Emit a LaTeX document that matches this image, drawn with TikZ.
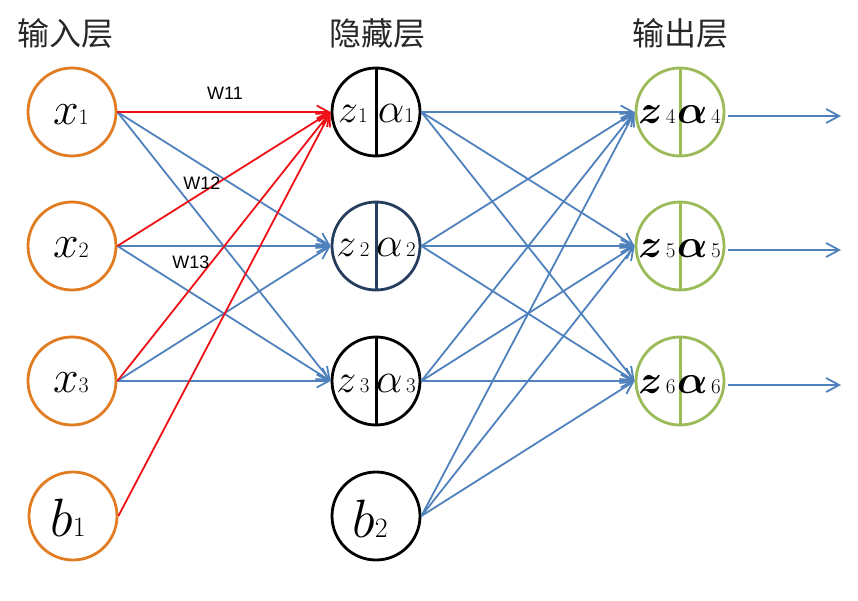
\RequirePackage{fix-cm}
\documentclass[tikz,border=0pt]{standalone}
\usepackage{bm}
\usepackage{fontspec}
\newfontfamily\cjkf{Noto Sans CJK SC}
\newfontfamily\arialf{Liberation Sans}
\usetikzlibrary{arrows.meta}
\definecolor{inorange}{RGB}{226,124,34}
\definecolor{outgreen}{RGB}{155,187,89}
\definecolor{linkblue}{RGB}{79,129,189}
\definecolor{linkred}{RGB}{238,16,22}
\definecolor{darknavy}{RGB}{40,62,95}
\definecolor{headgray}{RGB}{40,40,40}
% #1 letter size, #2 letter (math), #3 digit size, #4 digit
\newcommand{\nnlab}[4]{{\fontsize{#1pt}{#1pt}\selectfont$#2$}{\fontsize{#3pt}{#3pt}\selectfont #4}}
\newcommand{\nnlabb}[4]{{\fontsize{#1pt}{#1pt}\selectfont$\bm{#2}$}{\fontsize{#3pt}{#3pt}\selectfont #4}}
\begin{document}
\begin{tikzpicture}[x=1pt,y=-1pt,
  neuron/.style={circle,draw,line width=2.8pt,minimum size=88pt,inner sep=0pt},
  innode/.style={neuron,draw=inorange},
  hidnode/.style={neuron,draw=black},
  outnode/.style={neuron,draw=outgreen},
  header/.style={font=\cjkf\fontsize{32pt}{32pt}\selectfont,text=headgray,inner sep=0pt},
  wlab/.style={font=\arialf\fontsize{18pt}{18pt}\selectfont,inner sep=0pt},
  lbl/.style={anchor=base,inner sep=0pt},
  tip/.style={-{Straight Barb[length=12pt,width=13pt]}},
  redlink/.style={tip,draw=linkred,line width=1.8pt},
  bluelink/.style={tip,draw=linkblue,line width=1.8pt},
  divider/.style={line width=3pt}]
\useasboundingbox (0,0) rectangle (858,601);

% headers
\node[header] (hin) at (65,33) {输入层};
\node[header] (hhid) at (377,33) {隐藏层};
\node[header] (hout) at (680,33) {输出层};

% input layer
\node[innode] (x1) at (72,112) {};
\node[innode] (x2) at (72,246) {};
\node[innode] (x3) at (72,381) {};
\node[innode] (b1) at (73,516) {};
\node[lbl] (lx1) at (71,125) {\nnlab{46}{x}{22}{1}};
\node[lbl] (lx2) at (71,258) {\nnlab{46}{x}{22}{2}};
\node[lbl] (lx3) at (71,392) {\nnlab{46}{x}{22}{3}};
\node[lbl] (lb1) at (68,536) {\nnlab{54}{b}{28}{1}};

% hidden layer
\node[hidnode] (h1) at (376,112) {};
\node[hidnode,draw=darknavy] (h2) at (376,246) {};
\node[hidnode] (h3) at (376,381) {};
\node[hidnode] (b2) at (376,516) {};
\draw[divider,black] (h1.north) -- (h1.south);
\draw[divider,darknavy] (h2.north) -- (h2.south);
\draw[divider,black] (h3.north) -- (h3.south);
\node[lbl] (lz1) at (353,123) {\nnlab{40}{z}{21}{1}};
\node[lbl] (la1) at (396,123) {\nnlab{42}{\alpha}{21}{1}};
\node[lbl] (lz2) at (353,257) {\nnlab{40}{z}{21}{\,2}};
\node[lbl] (la2) at (396,257) {\nnlab{42}{\alpha}{21}{\,2}};
\node[lbl] (lz3) at (353,392) {\nnlab{40}{z}{21}{\,3}};
\node[lbl] (la3) at (396,392) {\nnlab{42}{\alpha}{21}{\,3}};
\node[lbl] (lb2) at (370,537) {\nnlab{54}{b}{28}{2}};

% output layer
\node[outnode] (o1) at (680,112) {};
\node[outnode] (o2) at (680,246) {};
\node[outnode] (o3) at (680,381) {};
\draw[divider,outgreen] (o1.north) -- (o1.south);
\draw[divider,outgreen] (o2.north) -- (o2.south);
\draw[divider,outgreen] (o3.north) -- (o3.south);
\node[lbl] (lz4) at (657,124) {\nnlabb{40}{z}{21}{\,4}};
\node[lbl] (la4) at (699,124) {\nnlabb{40}{\alpha}{21}{\,4}};
\node[lbl] (lz5) at (657,258) {\nnlabb{40}{z}{21}{\,5}};
\node[lbl] (la5) at (699,258) {\nnlabb{40}{\alpha}{21}{\,5}};
\node[lbl] (lz6) at (657,393) {\nnlabb{40}{z}{21}{\,6}};
\node[lbl] (la6) at (699,393) {\nnlabb{40}{\alpha}{21}{\,6}};

% input -> hidden
\foreach \s in {x1,x2,x3}{
  \foreach \t in {h2,h3}{
    \draw[bluelink] (\s.east) -- (\t.west);
  }
}
\foreach \s in {x1,x2,x3,b1}{
  \draw[redlink] (\s.east) -- (h1.west);
}

% hidden -> output
\foreach \s in {h1,h2,h3,b2}{
  \foreach \t in {o1,o2,o3}{
    \draw[bluelink] (\s.east) -- (\t.west);
  }
}

% outputs
\coordinate (e1) at (841,116);
\coordinate (e2) at (841,250);
\coordinate (e3) at (841,385);
\draw[bluelink,-{Straight Barb[length=13pt,width=14pt]}] ([xshift=3pt,yshift=-4pt]o1.east) -- (e1);
\draw[bluelink,-{Straight Barb[length=13pt,width=14pt]}] ([xshift=3pt,yshift=-4pt]o2.east) -- (e2);
\draw[bluelink,-{Straight Barb[length=13pt,width=14pt]}] ([xshift=3pt,yshift=-4pt]o3.east) -- (e3);

% weight labels
\node[wlab] (w11) at (225,93) {W11};
\node[wlab] (w12) at (202,183) {W12};
\node[wlab] (w13) at (191,262) {W13};
\end{tikzpicture}
\end{document}
